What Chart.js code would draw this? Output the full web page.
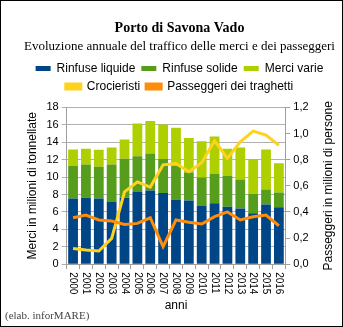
<!DOCTYPE html>
<html>
<head>
<meta charset="utf-8">
<script src="https://cdn.jsdelivr.net/npm/chart.js@4"></script>
<style>
  html, body { margin: 0; padding: 0; background: #fff; }
  #box { width: 341px; height: 325px; border: 1px solid #000; position: relative; }
  canvas { display: block; }
</style>
</head>
<body>
<div id="box"><canvas id="chart_porto" width="341" height="325"></canvas></div>
<script>
const anni = ['2000', '2001', '2002', '2003', '2004', '2005', '2006', '2007', '2008',
  '2009', '2010', '2011', '2012', '2013', '2014', '2015', '2016'];

// milioni di tonnellate
const rinfuseLiquide = [7.55, 7.63, 7.55, 7.2, 7.63, 8.28, 8.46, 8.16, 7.43, 7.32, 6.67, 6.98, 6.6, 6.4, 5.83, 6.86, 6.52];
const rinfuseSolide = [3.71, 3.82, 3.63, 4.25, 4.47, 4.12, 4.24, 3.9, 3.87, 3.21, 3.29, 3.36, 3.55, 3.33, 2.26, 1.72, 1.72];
const merciVarie = [1.91, 1.8, 1.95, 1.95, 2.2, 3.75, 3.75, 3.97, 4.35, 3.97, 4.14, 4.32, 3.1, 3.67, 3.97, 4.59, 3.36];

// milioni di persone
const crocieristi = [0.12, 0.108, 0.1, 0.197, 0.554, 0.63, 0.59, 0.76, 0.77, 0.707, 0.776, 0.944, 0.81, 0.937, 1.018, 0.988, 0.91];
const traghetti = [0.355, 0.376, 0.338, 0.33, 0.304, 0.312, 0.355, 0.134, 0.338, 0.32, 0.307, 0.363, 0.4, 0.338, 0.363, 0.376, 0.294];

const sans = 'Liberation Sans, Arial, sans-serif';
const serif = 'Liberation Serif, Times New Roman, serif';

// a bit more room under the legend
const legendGap = {
  id: 'legendGap',
  beforeInit(chart) {
    const fit = chart.legend.fit;
    chart.legend.fit = function () {
      fit.call(this);
      this.height += 5;
    };
  }
};

// year labels run top-to-bottom, right axis title bottom-to-top
const extraText = {
  id: 'extraText',
  afterDraw(chart) {
    const ctx = chart.ctx;
    const x = chart.scales.x;
    const y1 = chart.scales.y1;
    ctx.save();
    ctx.fillStyle = '#000';
    ctx.font = '10px ' + sans;
    ctx.textBaseline = 'middle';
    ctx.textAlign = 'left';
    anni.forEach((a, i) => {
      ctx.save();
      ctx.translate(x.getPixelForValue(i), x.top + 8);
      ctx.rotate(Math.PI / 2);
      ctx.fillText(a, 0, 0);
      ctx.restore();
    });
    ctx.save();
    ctx.font = '12px ' + sans;
    ctx.textAlign = 'center';
    ctx.translate(y1.right - 9, (y1.top + y1.bottom) / 2);
    ctx.rotate(-Math.PI / 2);
    ctx.fillText('Passeggeri in milioni di persone', 0, 0);
    ctx.restore();
    ctx.font = '11px ' + serif;
    ctx.fillStyle = '#444';
    ctx.textAlign = 'left';
    ctx.fillText('(elab. inforMARE)', 4, chart.height - 10);
    ctx.restore();
  }
};

new Chart(document.getElementById('chart_porto').getContext('2d'), {
  data: {
    labels: anni,
    datasets: [
      { type: 'line', label: 'Crocieristi', data: crocieristi, yAxisID: 'y1',
        borderColor: '#ffd21f', backgroundColor: '#ffd21f', borderWidth: 3,
        pointRadius: 0, tension: 0, order: 1 },
      { type: 'line', label: 'Passeggeri dei traghetti', data: traghetti, yAxisID: 'y1',
        borderColor: '#ff8c0a', backgroundColor: '#ff8c0a', borderWidth: 3,
        pointRadius: 0, tension: 0, order: 0 },
      { type: 'bar', label: 'Rinfuse liquide', data: rinfuseLiquide, backgroundColor: '#004586', order: 2 },
      { type: 'bar', label: 'Rinfuse solide', data: rinfuseSolide, backgroundColor: '#579d1c', order: 2 },
      { type: 'bar', label: 'Merci varie', data: merciVarie, backgroundColor: '#aecf00', order: 2 }
    ]
  },
  options: {
    responsive: false,
    animation: false,
    layout: { padding: { left: 20, right: 4, top: 9, bottom: 12 } },
    datasets: { bar: { barPercentage: 0.76, categoryPercentage: 1 } },
    plugins: {
      title: {
        display: true, text: 'Porto di Savona Vado', color: '#000',
        font: { family: serif, size: 14, weight: 'bold' },
        padding: { top: 10, bottom: 2 }
      },
      subtitle: {
        display: true, text: 'Evoluzione annuale del traffico delle merci e dei passeggeri', color: '#000',
        font: { family: serif, size: 13 },
        padding: { bottom: 2 }
      },
      legend: {
        labels: {
          color: '#000', font: { family: sans, size: 12 },
          boxWidth: 15, boxHeight: 5, padding: 6,
          sort: (a, b) => [2, 3, 4, 0, 1].indexOf(a.datasetIndex) - [2, 3, 4, 0, 1].indexOf(b.datasetIndex)
        }
      },
      tooltip: { enabled: false }
    },
    scales: {
      x: {
        stacked: true,
        border: { color: '#a0a0a0' },
        grid: { offset: true, drawOnChartArea: false, color: '#a0a0a0', tickLength: 5 },
        ticks: { autoSkip: false, color: 'rgba(0,0,0,0)', font: { family: sans, size: 11 }, minRotation: 90, maxRotation: 90, padding: 3 },
        title: { display: true, text: 'anni', color: '#000', font: { family: sans, size: 12 }, padding: { top: -1, bottom: 1 } }
      },
      y: {
        stacked: true, min: 0, max: 18,
        border: { color: '#a0a0a0' },
        grid: { color: '#b0b0b0', tickLength: 5 },
        ticks: { stepSize: 2, color: '#000', font: { family: sans, size: 11 }, padding: 3 },
        title: { display: true, text: 'Merci in milioni di tonnellate', color: '#000', font: { family: sans, size: 12 }, padding: 4 }
      },
      y1: {
        position: 'right', min: 0, max: 1.2,
        border: { color: '#a0a0a0' },
        grid: { drawOnChartArea: false, color: '#a0a0a0', tickLength: 5 },
        ticks: { stepSize: 0.2, color: '#000', font: { family: sans, size: 11 }, padding: 3,
          callback: v => v.toFixed(1).replace('.', ',') },
        title: { display: true, text: 'Passeggeri in milioni di persone', color: 'rgba(0,0,0,0)', font: { family: sans, size: 12 }, padding: 6 }
      }
    }
  },
  plugins: [legendGap, extraText]
});
</script>
</body>
</html>
